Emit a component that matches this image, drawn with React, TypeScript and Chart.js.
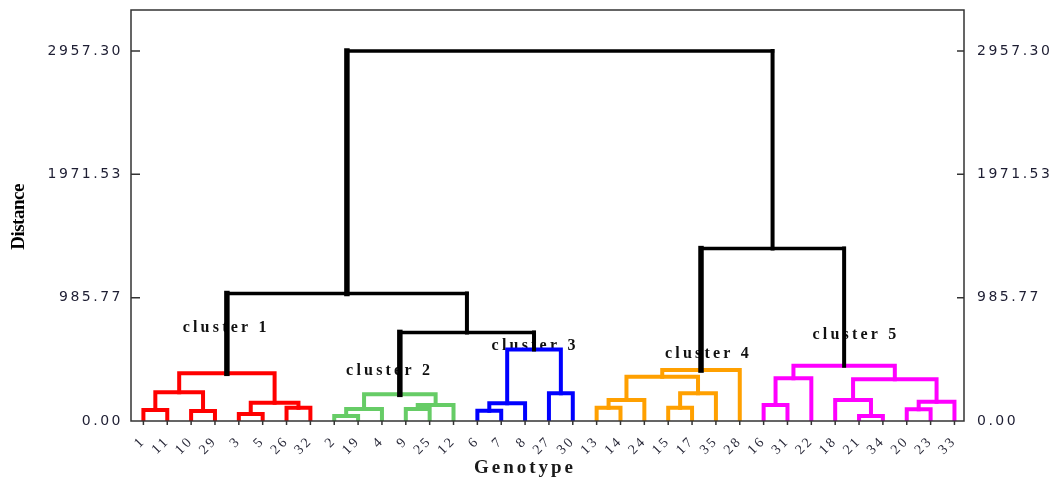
import React, { useEffect, useRef } from "react";
import { Chart, registerables } from "chart.js";

Chart.register(...registerables);

// ---- Data ----
const leafLabels = ["1", "11", "10", "29", "3", "5", "26", "32", "2", "19", "4", "9", "25", "12", "6", "7", "8", "27", "30", "13", "14", "24", "15", "17", "35", "28", "16", "31", "22", "18", "21", "34", "20", "23", "33"];
const leafCluster = [1, 1, 1, 1, 1, 1, 1, 1, 2, 2, 2, 2, 2, 2, 3, 3, 3, 3, 3, 4, 4, 4, 4, 4, 4, 4, 5, 5, 5, 5, 5, 5, 5, 5, 5];
// merges (node ids: leaves 0..34 by position, merges from 35 upward)
const mergeLeft = [0, 2, 35, 4, 6, 38, 37, 8, 42, 11, 44, 43, 14, 47, 17, 48, 19, 51, 22, 53, 52, 55, 26, 57, 30, 29, 32, 61, 60, 58, 46, 41, 56, 66];
const mergeRight = [1, 3, 36, 5, 7, 39, 40, 9, 10, 12, 13, 45, 15, 16, 18, 49, 20, 21, 23, 24, 54, 25, 27, 28, 31, 59, 33, 34, 62, 63, 50, 65, 64, 67];
const mergeHeight = [88, 80, 229, 56, 106, 146, 381, 40, 96, 96, 128, 213, 82, 141, 221, 572, 106, 168, 106, 221, 354, 407, 128, 341, 40, 168, 93, 154, 333, 441, 708, 1019, 1378, 2957.3];
const clusterNames = ["cluster 1", "cluster 2", "cluster 3", "cluster 4", "cluster 5"];
const clusterLabelX = [3.47, 10.32, 16.42, 23.69, 29.87];
const clusterLabelY = [742, 399, 599, 540, 692];
const yTickValues = [0, 985.77, 1971.53, 2957.3];
const yTickLabels = ["0.00", "985.77", "1971.53", "2957.30"];
const clusterColors = ["#000000", "#ff0000", "#66cc66", "#0000ff", "#ffa000", "#ff00ff"];

// ---- Build tree geometry from data ----
function buildDatasets() {
  const nx: number[] = [];
  const nh: number[] = [];
  const nc: number[] = [];
  leafLabels.forEach((_, i) => {
    nx.push(i);
    nh.push(0);
    nc.push(leafCluster[i]);
  });
  const sets: any[] = [];
  mergeHeight.forEach((h, k) => {
    const l = mergeLeft[k];
    const r = mergeRight[k];
    const x = (nx[l] + nx[r]) / 2;
    const c = nc[l] === nc[r] ? nc[l] : 0;
    nx.push(x);
    nh.push(h);
    nc.push(c);
    const black = c === 0;
    sets.push({
      type: "scatter",
      showLine: true,
      data: [
        { x: nx[l], y: nh[l] },
        { x: nx[l], y: h },
        { x: nx[r], y: h },
        { x: nx[r], y: nh[r] },
      ],
      borderColor: clusterColors[c],
      backgroundColor: clusterColors[c],
      pointRadius: 0,
      pointHoverRadius: 0,
      borderWidth: 4,
      borderCapStyle: "square",
      borderJoinStyle: "miter",
      tension: 0,
      segment: {
        borderWidth: (ctx: any) => {
          if (!black) return 4;
          if (ctx.p0DataIndex === 0) return 5.5;
          if (ctx.p0DataIndex === 1) return 3.5;
          return 4;
        },
      },
      order: black ? 0 : 1,
    });
  });
  return sets;
}

const decorPlugin = {
  id: "decor",
  beforeDraw(chart: any) {
    chart.ctx.letterSpacing = "2.5px";
  },
  beforeDatasetsDraw(chart: any) {
    const ctx = chart.ctx;
    ctx.letterSpacing = "0px";
    const xs = chart.scales.x;
    const ys = chart.scales.y;
    // cluster labels (under the tree lines)
    ctx.save();
    ctx.font = "bold 16px 'Liberation Serif'";
    ctx.letterSpacing = "3.2px";
    ctx.fillStyle = "#111111";
    ctx.textAlign = "center";
    ctx.textBaseline = "middle";
    clusterNames.forEach((n, i) => {
      ctx.fillText(n, xs.getPixelForValue(clusterLabelX[i]), ys.getPixelForValue(clusterLabelY[i]));
    });
    ctx.restore();
  },
  afterDraw(chart: any) {
    const ctx = chart.ctx;
    const a = chart.chartArea;
    const xs = chart.scales.x;
    const ys = chart.scales.y;
    ctx.save();
    ctx.letterSpacing = "0px";
    ctx.strokeStyle = "#333333";
    ctx.lineWidth = 1.5;
    ctx.strokeRect(a.left, a.top, a.right - a.left, a.bottom - a.top);
    // inner ticks on both y axes
    ctx.beginPath();
    yTickValues.forEach((v) => {
      const py = ys.getPixelForValue(v);
      if (v > 0) {
        ctx.moveTo(a.left, py);
        ctx.lineTo(a.left + 9, py);
        ctx.moveTo(a.right, py);
        ctx.lineTo(a.right - 7, py);
      }
    });
    // outer ticks on x axis
    leafLabels.forEach((_, i) => {
      const px = xs.getPixelForValue(i);
      ctx.moveTo(px, a.bottom);
      ctx.lineTo(px, a.bottom + 4);
    });
    ctx.stroke();
    // axis titles
    ctx.fillStyle = "#000000";
    ctx.font = "bold 19px 'Liberation Serif'";
    ctx.textAlign = "center";
    ctx.textBaseline = "middle";
    ctx.save();
    ctx.translate(19, 217);
    ctx.rotate(-Math.PI / 2);
    ctx.letterSpacing = "-0.5px";
    ctx.fillText("Distance", 0, 0);
    ctx.restore();
    ctx.fillStyle = "#1a1a1a";
    ctx.font = "bold 19px 'Liberation Serif'";
    ctx.letterSpacing = "3px";
    ctx.fillText("Genotype", 525, 468);
    ctx.restore();
  },
};

export default function App() {
  const ref = useRef<HTMLCanvasElement>(null);
  useEffect(() => {
    if (!ref.current) return;
    const yTicks = (s: any) => {
      s.ticks = yTickValues.map((v) => ({ value: v }));
    };
    const yLabel = (v: any) => {
      const i = yTickValues.indexOf(v);
      return i >= 0 ? yTickLabels[i] : "";
    };
    const chart = new Chart(ref.current, {
      type: "scatter",
      data: { datasets: buildDatasets() },
      plugins: [decorPlugin],
      options: {
        responsive: false,
        animation: false,
        events: [],
        layout: { padding: { top: 10, left: 0, right: 0, bottom: 0 } },
        plugins: { legend: { display: false }, tooltip: { enabled: false } },
        scales: {
          x: {
            type: "linear",
            position: "bottom",
            min: -0.52,
            max: 34.4,
            afterBuildTicks: (s: any) => {
              s.ticks = leafLabels.map((_, i) => ({ value: i }));
            },
            afterFit: (s: any) => {
              s.height = 64;
              s.paddingLeft = 0;
              s.paddingRight = 0;
            },
            grid: { display: false },
            border: { display: false },
            ticks: {
              autoSkip: false,
              minRotation: 45,
              maxRotation: 45,
              padding: 4,
              color: "#2a2a3a",
              font: { family: "'Liberation Serif'", size: 14 },
              callback: (v: any) => leafLabels[v] ?? "",
            },
          },
          y: {
            type: "linear",
            position: "left",
            min: 0,
            max: 3285,
            afterBuildTicks: yTicks,
            afterFit: (s: any) => {
              s.width = 131;
              s.paddingTop = 0;
              s.paddingBottom = 0;
            },
            grid: { display: false },
            border: { display: false },
            ticks: {
              padding: 0,
              color: "#1e1e33",
              font: { family: "'DejaVu Sans'", size: 14 },
              callback: yLabel,
            },
          },
          y2: {
            type: "linear",
            position: "right",
            min: 0,
            max: 3285,
            afterBuildTicks: yTicks,
            afterFit: (s: any) => {
              s.width = 93;
              s.paddingTop = 0;
              s.paddingBottom = 0;
            },
            grid: { display: false },
            border: { display: false },
            ticks: {
              padding: 5,
              color: "#1e1e33",
              font: { family: "'DejaVu Sans'", size: 14 },
              callback: yLabel,
            },
          },
        },
      },
    } as any);
    return () => chart.destroy();
  }, []);
  return (
    <div style={{ position: "fixed", left: 0, top: 0, width: 1057, height: 485, background: "#ffffff" }}>
      <canvas ref={ref} width={1057} height={485} style={{ display: "block" }} />
    </div>
  );
}
